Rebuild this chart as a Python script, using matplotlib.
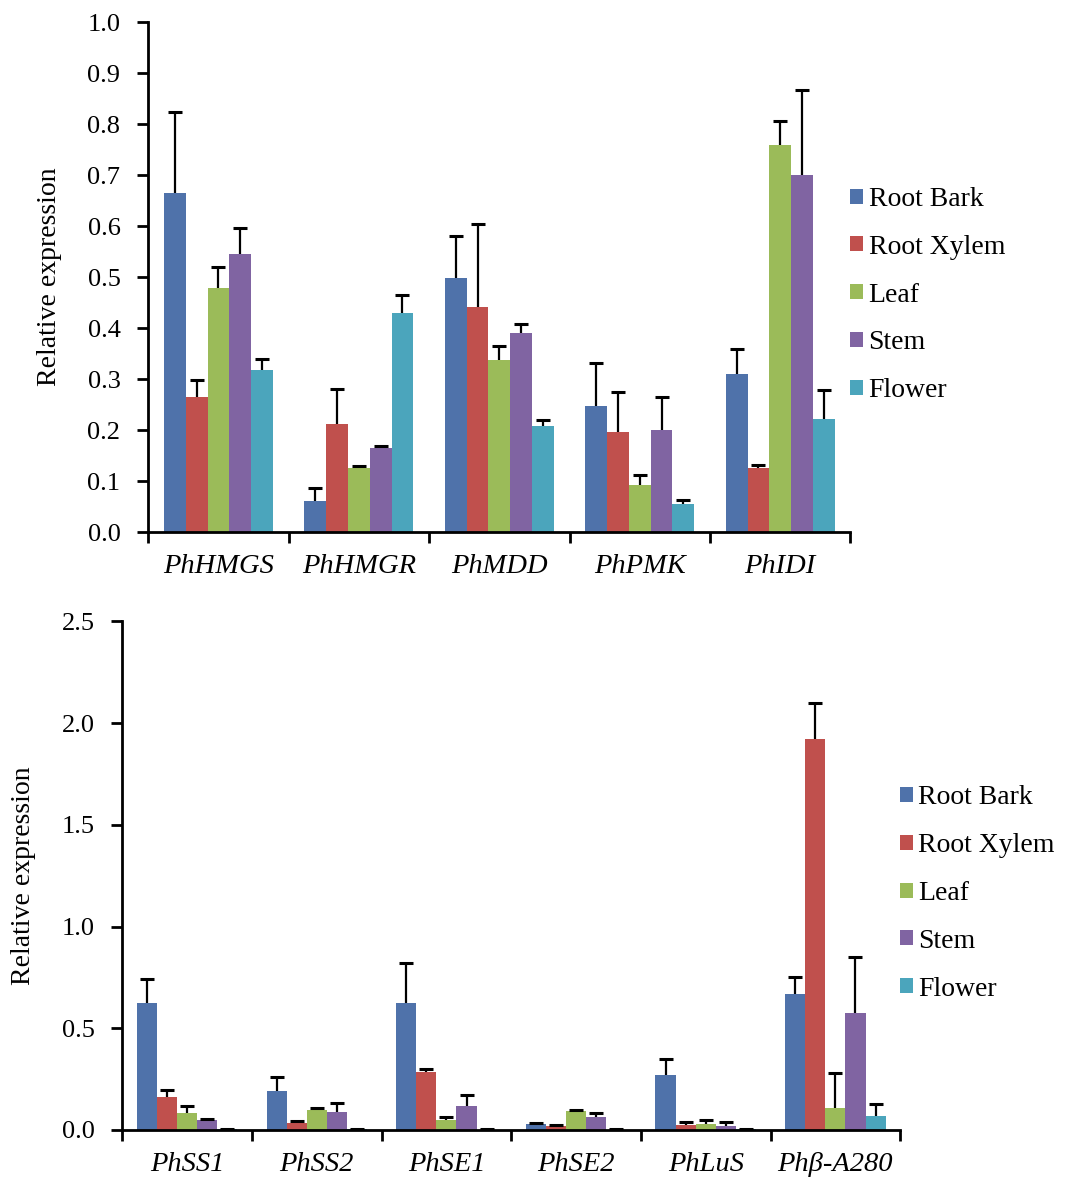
import matplotlib.pyplot as plt
import numpy as np

plt.rcParams['font.family'] = ['Liberation Serif', 'DejaVu Serif']

tissues = ["Root Bark", "Root Xylem", "Leaf", "Stem", "Flower"]
colors = ["#4F72AA", "#C0504D", "#9BBB59", "#8064A2", "#4BA5BC"]

# top panel
genes_top = ["PhHMGS", "PhHMGR", "PhMDD", "PhPMK", "PhIDI"]
top_mean = {
    "Root Bark":  [0.665, 0.060, 0.498, 0.247, 0.310],
    "Root Xylem": [0.265, 0.212, 0.442, 0.196, 0.125],
    "Leaf":       [0.478, 0.125, 0.338, 0.092, 0.760],
    "Stem":       [0.545, 0.165, 0.390, 0.200, 0.700],
    "Flower":     [0.318, 0.430, 0.208, 0.055, 0.222],
}
top_err = {
    "Root Bark":  [0.160, 0.027, 0.082, 0.085, 0.050],
    "Root Xylem": [0.033, 0.068, 0.163, 0.079, 0.007],
    "Leaf":       [0.042, 0.005, 0.027, 0.020, 0.047],
    "Stem":       [0.052, 0.003, 0.018, 0.065, 0.167],
    "Flower":     [0.022, 0.035, 0.012, 0.007, 0.056],
}

# bottom panel
genes_bot = ["PhSS1", "PhSS2", "PhSE1", "PhSE2", "PhLuS", "Phβ-A280"]
bot_mean = {
    "Root Bark":  [0.625, 0.190, 0.625, 0.030, 0.270, 0.670],
    "Root Xylem": [0.160, 0.035, 0.285, 0.020, 0.025, 1.920],
    "Leaf":       [0.085, 0.100, 0.050, 0.095, 0.030, 0.110],
    "Stem":       [0.050, 0.090, 0.120, 0.065, 0.020, 0.575],
    "Flower":     [0.003, 0.003, 0.002, 0.002, 0.003, 0.070],
}
bot_err = {
    "Root Bark":  [0.115, 0.070, 0.195, 0.005, 0.080, 0.080],
    "Root Xylem": [0.035, 0.010, 0.015, 0.005, 0.015, 0.180],
    "Leaf":       [0.035, 0.010, 0.015, 0.005, 0.020, 0.170],
    "Stem":       [0.005, 0.040, 0.050, 0.020, 0.017, 0.275],
    "Flower":     [0.002, 0.002, 0.001, 0.001, 0.002, 0.055],
}


def draw(ax, genes, means, errs, ymax, ystep):
    x = np.arange(len(genes))
    w = 0.155
    for i, t in enumerate(tissues):
        m = np.array(means[t])
        e = np.array(errs[t])
        xi = x + (i - 2) * w
        ax.bar(xi, m, w, color=colors[i], label=t, zorder=2)
        # upper error bar only, cap at the top
        ax.vlines(xi, m, m + e, color="black", lw=1.6, zorder=3)
        ax.plot(xi, m + e, ls="none", marker="_", ms=10, mew=2.2,
                color="black", zorder=3)
    ticks = np.arange(0, ymax + 1e-9, ystep)
    ax.set_xlim(-0.5, len(genes) - 0.5)
    ax.set_ylim(0, ymax)
    ax.set_yticks(ticks)
    ax.set_yticklabels([f"{v:.1f}" for v in ticks])
    ax.set_xticks(np.arange(-0.5, len(genes)))
    ax.set_xticklabels([])
    ax.set_xticks(x, minor=True)
    ax.set_xticklabels(genes, minor=True, fontstyle="italic", fontsize=20.5)
    ax.tick_params(axis="x", which="major", direction="out", length=8, width=2)
    ax.tick_params(axis="x", which="minor", length=0, pad=16)
    ax.tick_params(axis="y", direction="out", length=8, width=2,
                   labelsize=19, pad=12)
    for s in ["top", "right"]:
        ax.spines[s].set_visible(False)
    for s in ["left", "bottom"]:
        ax.spines[s].set_linewidth(2)


fig = plt.figure(figsize=(10.82, 11.77), dpi=100)

ax1 = fig.add_axes([0.137, 0.548, 0.649, 0.433])
draw(ax1, genes_top, top_mean, top_err, 1.0, 0.1)
ax1.set_ylabel("Relative expression", fontsize=20, labelpad=18)
ax1.legend(loc="center left", bbox_to_anchor=(1.0, 0.465), frameon=False,
           fontsize=20, handlelength=0.45, handleheight=0.45,
           handletextpad=0.2, labelspacing=0.82, borderaxespad=0.0,
           borderpad=0.0)

ax2 = fig.add_axes([0.113, 0.040, 0.719, 0.432])
draw(ax2, genes_bot, bot_mean, bot_err, 2.5, 0.5)
ax2.set_ylabel("Relative expression", fontsize=20, labelpad=18)
ax2.legend(loc="center left", bbox_to_anchor=(1.0, 0.465), frameon=False,
           fontsize=20, handlelength=0.45, handleheight=0.45,
           handletextpad=0.2, labelspacing=0.82, borderaxespad=0.0,
           borderpad=0.0)

fig.savefig("out.png", dpi=100)
